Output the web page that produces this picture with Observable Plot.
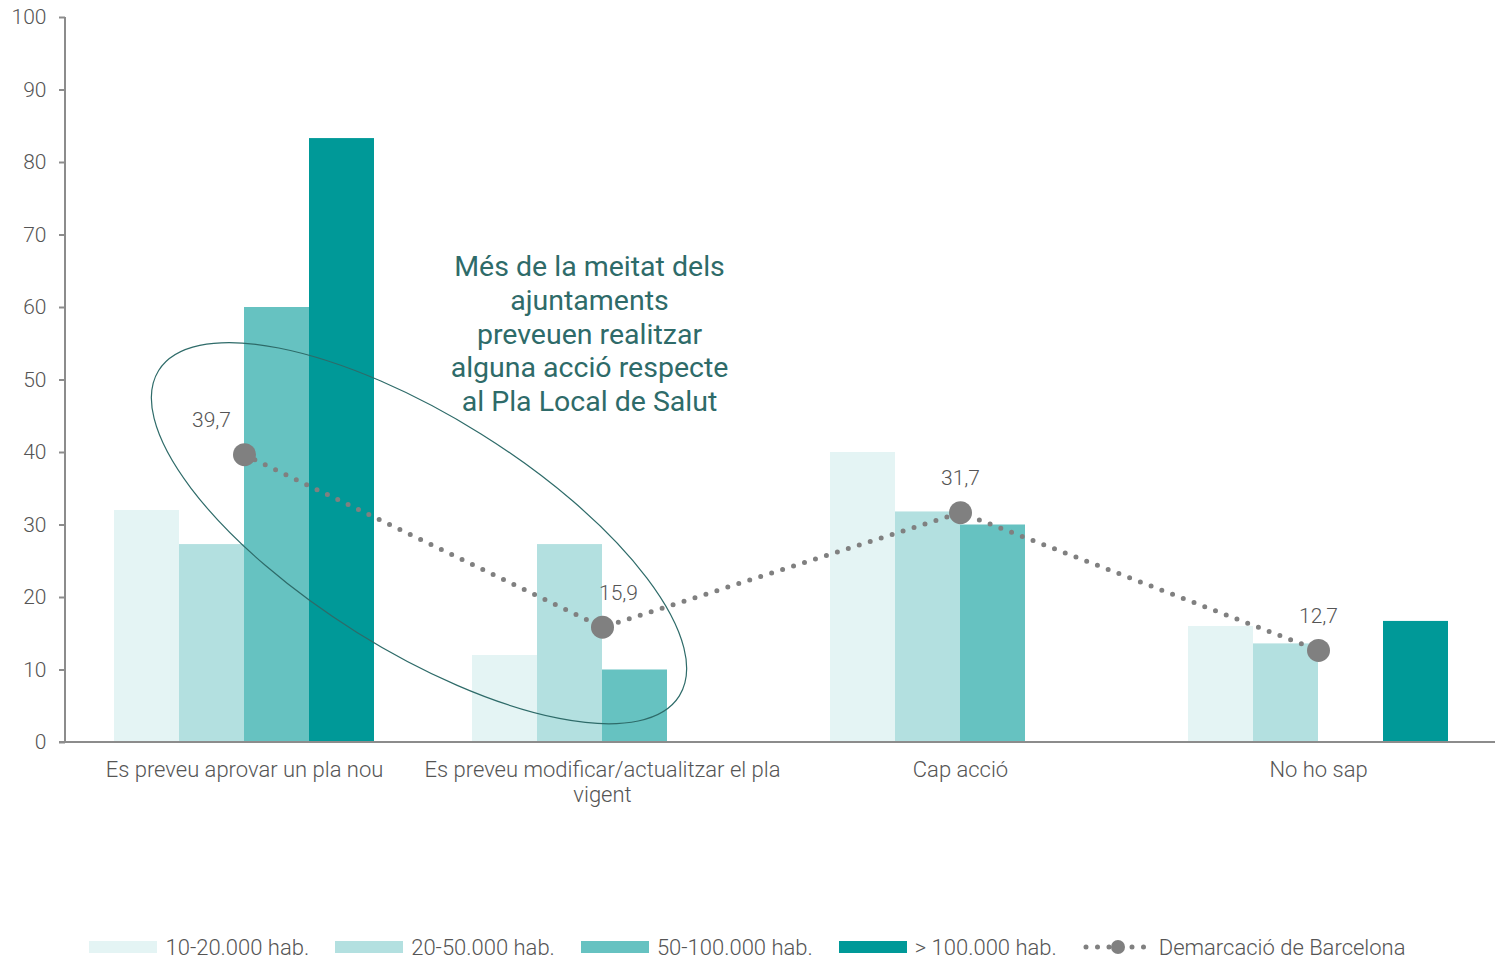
<!DOCTYPE html>
<html>
<head>
<meta charset="utf-8">
<script src="https://cdn.jsdelivr.net/npm/d3@7"></script>
<script src="https://cdn.jsdelivr.net/npm/@observablehq/plot@0.6"></script>
<style>
  html, body { margin: 0; padding: 0; background: #fff; }
  body { width: 1495px; font-family: Roboto, "Liberation Sans", sans-serif; font-weight: 300; }
  #legend { display: flex; justify-content: center; align-items: center; height: 28px; margin-top: 3px; font-size: 22px; color: #555; }
  .item { display: flex; align-items: center; margin: 0 13px; }
  .sw { width: 68px; height: 12px; margin-right: 8px; }
</style>
</head>
<body>
<div id="chart"></div>
<div id="legend"></div>
<script>
// ---- data ----
const categories = [
  "Es preveu aprovar un pla nou",
  "Es preveu modificar/actualitzar el pla vigent",
  "Cap acció",
  "No ho sap"
];
const tickLabels = [
  "Es preveu aprovar un pla nou",
  "Es preveu modificar/actualitzar el pla\nvigent",
  "Cap acció",
  "No ho sap"
];
const seriesNames = ["10-20.000 hab.", "20-50.000 hab.", "50-100.000 hab.", "> 100.000 hab."];
const s1 = [32.0, 12.0, 40.0, 16.0];
const s2 = [27.3, 27.3, 31.8, 13.6];
const s3 = [60.0, 10.0, 30.0, 0];
const s4 = [83.3, 0, 0, 16.7];
const lineName = "Demarcació de Barcelona";
const lineValues = [39.7, 15.9, 31.7, 12.7];
const yTicks = [0, 10, 20, 30, 40, 50, 60, 70, 80, 90, 100];
const annotation = "Més de la meitat dels\najuntaments\npreveuen realitzar\nalguna acció respecte\nal Pla Local de Salut";

// ---- styles ----
const colors = ["#e4f4f4", "#b3e0e0", "#66c2c1", "#009998"];
const grey = "#808080";
const axisGrey = "#8c8c8c";
const textGrey = "#555";

const W = 1495, H = 930, mL = 65, mR = 0, mT = 17, mB = 188;
const step = 358;
const bw = step;
const barW = 65;
const seriesArr = [s1, s2, s3, s4];

const barMarks = seriesArr.map((vals, j) => {
  const rows = categories.map((c, i) => ({cat: c, v: vals[i]})).filter(d => d.v > 0);
  const left = bw / 2 - 2 * barW + j * barW;
  return Plot.barY(rows, {
    x: "cat", y: "v", fill: colors[j],
    insetLeft: left, insetRight: bw - left - barW
  });
});

const lineData = categories.map((c, i) => ({cat: c, v: lineValues[i]}));
const fmt = v => v.toFixed(1).replace(".", ",");
const labelDx = [-33, 16, 0, 0];
const labelMarks = lineData.map((d, i) => Plot.text([d], {
  x: "cat", y: "v", text: r => fmt(r.v), dx: labelDx[i], dy: -34,
  fontSize: 21, fill: textGrey
}));

function axesLines(index, {x, y}) {
  const g = d3.create("svg:g");
  g.append("line").attr("x1", mL).attr("x2", mL).attr("y1", y(100)).attr("y2", y(0))
    .attr("stroke", axisGrey).attr("stroke-width", 2);
  g.append("line").attr("x1", mL - 6).attr("x2", W - mR).attr("y1", y(0)).attr("y2", y(0))
    .attr("stroke", axisGrey).attr("stroke-width", 2);
  return g.node();
}

function ellipse(index, {x, y}) {
  const cx = (x(categories[0]) + x(categories[1])) / 2 + x.bandwidth() / 2 - 4;
  const cy = y(28.8);
  return d3.create("svg:ellipse")
    .attr("cx", cx).attr("cy", cy).attr("rx", 307).attr("ry", 117)
    .attr("transform", `rotate(32 ${cx} ${cy})`)
    .attr("fill", "none").attr("stroke", "#2e6b69").attr("stroke-width", 1.2)
    .node();
}

const chart = Plot.plot({
  width: W, height: H,
  marginLeft: mL, marginRight: mR, marginTop: mT, marginBottom: mB,
  style: {fontFamily: "Roboto, 'Liberation Sans', sans-serif", fontWeight: 300, fontSize: "21px", color: textGrey, background: "#fff", overflow: "visible"},
  x: {domain: categories, padding: 0, range: [mL, mL + categories.length * step], label: null},
  y: {domain: [0, 100], label: null},
  marks: [
    Plot.axisY({ticks: yTicks, tickSize: 6, tickPadding: 13, fontSize: 21, stroke: axisGrey, strokeWidth: 2, fill: textGrey, label: null}),
    Plot.axisX({tickSize: 0, tickPadding: 17, fontSize: 22, fill: textGrey, lineHeight: 1.14, label: null,
      tickFormat: c => tickLabels[categories.indexOf(c)]}),
    ...barMarks,
    axesLines,
    Plot.line(lineData, {x: "cat", y: "v", stroke: grey, strokeWidth: 5, strokeDasharray: "0 11.5", strokeLinecap: "round"}),
    Plot.dot(lineData, {x: "cat", y: "v", r: 11.5, fill: grey}),
    ...labelMarks,
    ellipse,
    Plot.text([annotation], {x: () => categories[1], y: () => 56.5, text: d => d, dx: -13,
      fontSize: 28.5, fill: "#2e6b69", lineHeight: 1.18, fontWeight: 400})
  ]
});
document.getElementById("chart").appendChild(chart);

// ---- legend ----
const legend = d3.select("#legend");
seriesNames.forEach((n, j) => {
  const it = legend.append("div").attr("class", "item");
  it.append("div").attr("class", "sw").style("background", colors[j]);
  it.append("span").text(n);
});
const li = legend.append("div").attr("class", "item");
const sv = li.append("svg").attr("width", 68).attr("height", 20).style("margin-right", "8px");
sv.append("line").attr("x1", 3).attr("x2", 66).attr("y1", 10).attr("y2", 10)
  .attr("stroke", grey).attr("stroke-width", 5).attr("stroke-dasharray", "0 11.5").attr("stroke-linecap", "round");
sv.append("circle").attr("cx", 35).attr("cy", 10).attr("r", 7).attr("fill", grey);
li.append("span").text(lineName);
</script>
</body>
</html>
